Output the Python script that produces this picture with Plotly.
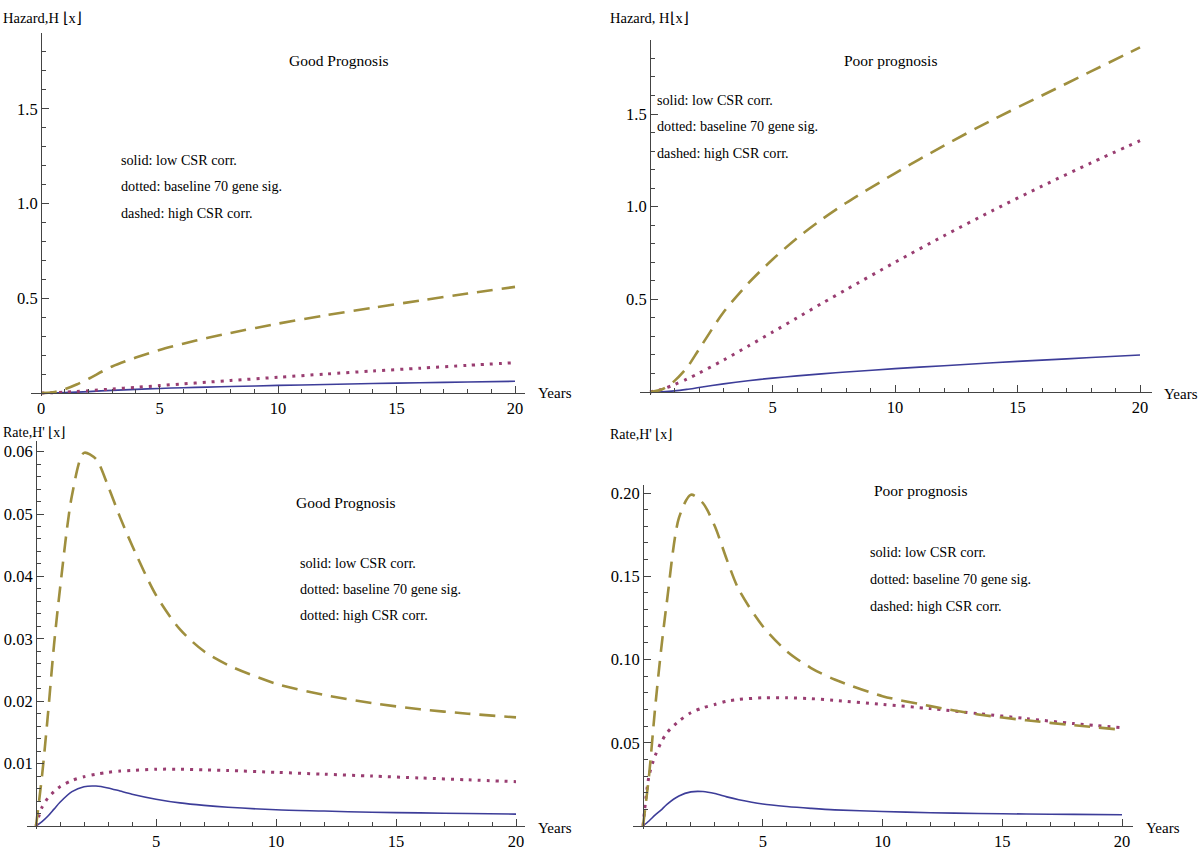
import plotly.graph_objects as go

# ---------------- data ----------------
years_hazard = [0, 0.5, 1, 1.5, 2, 3, 4, 5, 6, 7, 8, 10, 12, 14, 16, 18, 20]
good_solid_H = [0, 0.0006, 0.002, 0.0045, 0.0075, 0.014, 0.019, 0.024, 0.028, 0.031, 0.034, 0.040, 0.045, 0.050, 0.054, 0.058, 0.062]
good_dotted_H = [0, 0.0015, 0.0045, 0.008, 0.012, 0.021, 0.030, 0.039, 0.048, 0.057, 0.066, 0.083, 0.100, 0.116, 0.131, 0.146, 0.160]
good_dashed_H = [0, 0.004, 0.02, 0.045, 0.075, 0.14, 0.187, 0.227, 0.26, 0.29, 0.317, 0.366, 0.41, 0.45, 0.488, 0.525, 0.56]
poor_solid_H = [0, 0.0015, 0.006, 0.014, 0.024, 0.044, 0.061, 0.075, 0.087, 0.098, 0.108, 0.126, 0.142, 0.158, 0.172, 0.186, 0.200]
poor_dotted_H = [0, 0.015, 0.04, 0.069, 0.102, 0.172, 0.247, 0.323, 0.40, 0.477, 0.552, 0.70, 0.843, 0.98, 1.111, 1.236, 1.356]
poor_dashed_H = [0, 0.015, 0.06, 0.13, 0.23, 0.43, 0.585, 0.715, 0.83, 0.93, 1.02, 1.18, 1.33, 1.47, 1.60, 1.73, 1.86]

years_rate = [0, 0.25, 0.5, 0.75, 1, 1.5, 2, 2.5, 3, 3.5, 4, 5, 6, 7, 8, 10, 12, 14, 16, 18, 20]
good_solid_R = [0, 0.0007, 0.0016, 0.0027, 0.0038, 0.0055, 0.0063, 0.0064, 0.0061, 0.0056, 0.0051, 0.0043, 0.0037, 0.0033, 0.0030, 0.0026, 0.0024, 0.0022, 0.0021, 0.0020, 0.0019]
good_dotted_R = [0, 0.0030, 0.0045, 0.0055, 0.0063, 0.0073, 0.0079, 0.0083, 0.0086, 0.0088, 0.0089, 0.0091, 0.0091, 0.0090, 0.0089, 0.0086, 0.0083, 0.0080, 0.0077, 0.0074, 0.0071]
good_dashed_R = [0, 0.008, 0.018, 0.029, 0.038, 0.053, 0.0598, 0.0588, 0.0545, 0.0495, 0.045, 0.037, 0.0315, 0.028, 0.0258, 0.0228, 0.021, 0.0197, 0.0187, 0.018, 0.0174]
poor_solid_R = [0, 0.003, 0.0065, 0.0095, 0.013, 0.018, 0.0205, 0.0207, 0.0195, 0.0175, 0.0158, 0.0132, 0.0117, 0.0106, 0.0097, 0.0087, 0.0080, 0.0075, 0.0072, 0.0070, 0.0068]
poor_dotted_R = [0, 0.030, 0.042, 0.050, 0.056, 0.063, 0.068, 0.071, 0.073, 0.075, 0.076, 0.077, 0.077, 0.0765, 0.0755, 0.073, 0.0705, 0.0675, 0.0645, 0.0615, 0.059]
poor_dashed_R = [0, 0.03, 0.07, 0.105, 0.135, 0.185, 0.199, 0.194, 0.18, 0.16, 0.142, 0.12, 0.105, 0.095, 0.088, 0.078, 0.072, 0.067, 0.0635, 0.0605, 0.0578]

x_ticks_with_zero = [0, 5, 10, 15, 20]
x_ticks_no_zero = [5, 10, 15, 20]
hazard_ticks = [0.5, 1.0, 1.5]
hazard_tick_labels = ["0.5", "1.0", "1.5"]
good_rate_ticks = [0.01, 0.02, 0.03, 0.04, 0.05, 0.06]
good_rate_tick_labels = ["0.01", "0.02", "0.03", "0.04", "0.05", "0.06"]
poor_rate_ticks = [0.05, 0.10, 0.15, 0.20]
poor_rate_tick_labels = ["0.05", "0.10", "0.15", "0.20"]

# ---------------- styling ----------------
W, H = 1200, 851
FONT = "Liberation Serif, Times New Roman, serif"
C_SOLID = "#3D3D99"
C_DOT = "#993D71"
C_DASH = "#9F8F3E"
AXC = "#444444"
TICKSIZE = 16.5


def fx(px):
    return px / W


def fy(py):
    return 1 - py / H


panels = [
    dict(t0=41, t20=515, xl=31, xr=525, y0=393, ytop=33, ppu=189.5,
         x=years_hazard, ys=(good_solid_H, good_dotted_H, good_dashed_H),
         xt=x_ticks_with_zero, yt=hazard_ticks, ytl=hazard_tick_labels,
         yminor=0.1),
    dict(t0=650, t20=1140, xl=640, xr=1152, y0=392, ytop=40, ppu=185.3,
         x=years_hazard, ys=(poor_solid_H, poor_dotted_H, poor_dashed_H),
         xt=x_ticks_no_zero, yt=hazard_ticks, ytl=hazard_tick_labels,
         yminor=0.1),
    dict(t0=36, t20=516, xl=27, xr=525, y0=826, ytop=441, ppu=6240.0,
         x=years_rate, ys=(good_solid_R, good_dotted_R, good_dashed_R),
         xt=x_ticks_no_zero, yt=good_rate_ticks, ytl=good_rate_tick_labels,
         yminor=0.002),
    dict(t0=643, t20=1122, xl=633, xr=1133, y0=826, ytop=485, ppu=1665.0,
         x=years_rate, ys=(poor_solid_R, poor_dotted_R, poor_dashed_R),
         xt=x_ticks_no_zero, yt=poor_rate_ticks, ytl=poor_rate_tick_labels,
         yminor=0.01),
]

fig = go.Figure()
layout = dict(
    width=W, height=H,
    margin=dict(l=0, r=0, t=0, b=0),
    paper_bgcolor="white", plot_bgcolor="white",
    showlegend=False,
    font=dict(family=FONT, size=15, color="black"),
)

for i, p in enumerate(panels):
    k = "" if i == 0 else str(i + 1)
    pxy = (p["t20"] - p["t0"]) / 20.0
    xr = [(p["xl"] - p["t0"]) / pxy, (p["xr"] - p["t0"]) / pxy]
    yr = [-3.0 / p["ppu"], (p["y0"] - p["ytop"]) / p["ppu"]]
    ymax = yr[1]
    nminor = int(ymax / p["yminor"] + 1e-9)
    yminor_vals = [round(j * p["yminor"], 6) for j in range(1, nminor + 1)]
    layout["xaxis" + k] = dict(
        domain=[fx(p["xl"]), fx(p["xr"])], range=xr, anchor="free",
        position=fy(p["y0"]), showgrid=False, zeroline=False,
        showline=True, linecolor=AXC, linewidth=1.2,
        tickmode="array", tickvals=p["xt"], ticktext=[str(v) for v in p["xt"]],
        ticks="inside", ticklen=7, tickwidth=1, tickcolor=AXC,
        minor=dict(tickmode="array", tickvals=list(range(1, 21)),
                   ticks="inside", ticklen=4, tickwidth=1, tickcolor=AXC),
        tickfont=dict(family=FONT, size=TICKSIZE, color="black"),
        fixedrange=True,
    )
    layout["yaxis" + k] = dict(
        domain=[fy(p["y0"] + 3), fy(p["ytop"])], range=yr, anchor="free",
        position=fx(p["t0"]), showgrid=False, zeroline=False,
        showline=True, linecolor=AXC, linewidth=1,
        tickmode="array", tickvals=p["yt"], ticktext=p["ytl"],
        ticks="inside", ticklen=7, tickwidth=1, tickcolor=AXC,
        minor=dict(tickmode="array", tickvals=yminor_vals,
                   ticks="inside", ticklen=4, tickwidth=1, tickcolor=AXC),
        tickfont=dict(family=FONT, size=TICKSIZE, color="black"),
        fixedrange=True,
    )
    xa, ya = "x" + k, "y" + k
    s, d, ds = p["ys"]
    fig.add_trace(go.Scatter(x=p["x"], y=s, mode="lines", xaxis=xa, yaxis=ya,
                             line=dict(color=C_SOLID, width=1.6, shape="spline", smoothing=0.8)))
    fig.add_trace(go.Scatter(x=p["x"], y=d, mode="lines", xaxis=xa, yaxis=ya,
                             line=dict(color=C_DOT, width=3, dash="3px,6px", shape="spline", smoothing=0.8)))
    fig.add_trace(go.Scatter(x=p["x"], y=ds, mode="lines", xaxis=xa, yaxis=ya,
                             line=dict(color=C_DASH, width=2.6, dash="16px,9px", shape="spline", smoothing=0.8)))

annotations = []


def txt(text, x, y, anchor="left", size=14.2):
    annotations.append(dict(text=text, x=fx(x), y=fy(y), xref="paper", yref="paper",
                            xanchor=anchor, yanchor="middle", showarrow=False,
                            font=dict(family=FONT, size=size, color="black")))


# axis labels
txt("Hazard,H ⌊x⌋", 1, 18, size=14.5)
txt("Hazard, H⌊x⌋", 608, 18, size=14.5)
txt("Rate,H' ⌊x⌋", 1, 432, size=14)
txt("Rate,H' ⌊x⌋", 608, 434, size=14)
txt("Years", 536, 393, size=15)
txt("Years", 1162, 394, size=15)
txt("Years", 536, 828, size=15)
txt("Years", 1144, 828, size=15)

# panel titles and line-style keys
TS = 15.5
txt("Good Prognosis", 339, 60, anchor="center", size=TS)
txt("solid: low CSR corr.", 119, 160)
txt("dotted: baseline 70 gene sig.", 119, 186)
txt("dashed: high CSR corr.", 119, 213)

txt("Poor prognosis", 890, 60, anchor="center", size=TS)
txt("solid: low CSR corr.", 655, 100)
txt("dotted: baseline 70 gene sig.", 655, 126)
txt("dashed: high CSR corr.", 655, 153)

txt("Good Prognosis", 345, 503, anchor="center", size=TS)
txt("solid: low CSR corr.", 298, 563)
txt("dotted: baseline 70 gene sig.", 298, 589)
txt("dotted: high CSR corr.", 298, 615)

txt("Poor prognosis", 920, 490, anchor="center", size=TS)
txt("solid: low CSR corr.", 868, 552)
txt("dotted: baseline 70 gene sig.", 868, 579)
txt("dashed: high CSR corr.", 868, 606)

layout["annotations"] = annotations
fig.update_layout(**layout)
fig.write_html("out.html", config={"displayModeBar": False},
               post_script="document.body.style.margin='0';document.body.style.overflow='hidden';")
